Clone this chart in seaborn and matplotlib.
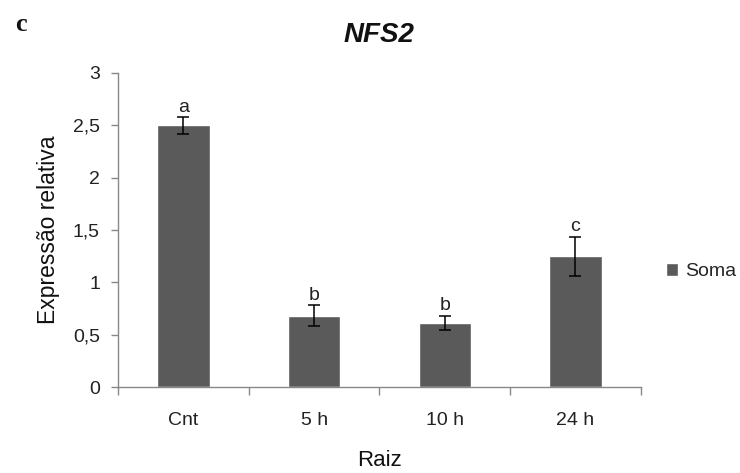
import matplotlib
matplotlib.use("Agg")
import matplotlib.pyplot as plt
from matplotlib.ticker import FixedLocator, FuncFormatter
import seaborn as sns
import pandas as pd

# Relative expression of NFS2 in root tissue
categories = ["Cnt", "5 h", "10 h", "24 h"]
expression = [2.50, 0.68, 0.61, 1.25]
errors = [0.08, 0.10, 0.07, 0.185]
letters = ["a", "b", "b", "c"]
series_name = "Soma"

sns.set_theme(style="white")
plt.rcParams["font.family"] = ["Liberation Sans", "DejaVu Sans"]

df = pd.DataFrame({"grupo": categories, "valor": expression})

fig = plt.figure(figsize=(7.4, 4.73), dpi=100)
ax = fig.add_axes([0.1595, 0.1818, 0.7065, 0.6639])

bar_color = "#5a5a5a"
sns.barplot(data=df, x="grupo", y="valor", color=bar_color, width=0.4,
            saturation=1, errorbar=None, label=series_name, ax=ax)

xpos = list(range(len(categories)))
ax.errorbar(xpos, expression, yerr=errors, fmt="none", ecolor="black",
            elinewidth=1.1, capsize=4, capthick=1.1)

for x, v, e, t in zip(xpos, expression, errors, letters):
    ax.annotate(t, (x, v + e), xytext=(0, 1), textcoords="offset points",
                ha="center", va="bottom", fontsize=14, color="#222222")

ax.set_ylim(0, 3)
ax.set_xlim(-0.5, len(categories) - 0.5)
ax.set_yticks([0, 0.5, 1, 1.5, 2, 2.5, 3])
ax.yaxis.set_major_formatter(
    FuncFormatter(lambda v, _: ("%g" % v).replace(".", ",")))

# category boundaries carry the tick marks, labels sit at the centres
ax.xaxis.set_major_locator(FixedLocator([i - 0.5 for i in range(len(categories) + 1)]))
ax.xaxis.set_major_formatter(FuncFormatter(lambda v, _: ""))
ax.xaxis.set_minor_locator(FixedLocator(xpos))
ax.set_xticklabels(categories, minor=True)
ax.tick_params(axis="x", which="major", direction="out", length=6,
               width=1, color="#888888", bottom=True)
ax.tick_params(axis="x", which="minor", length=0, pad=18,
               labelsize=14, labelcolor="#222222")
ax.tick_params(axis="y", direction="out", length=5, width=1,
               color="#888888", left=True, labelsize=14,
               labelcolor="#222222", pad=8)

for side in ["top", "right"]:
    ax.spines[side].set_visible(False)
for side in ["left", "bottom"]:
    ax.spines[side].set_color("#888888")
    ax.spines[side].set_linewidth(1)

ax.set_xlabel("Raiz", fontsize=16, color="#111111", labelpad=15)
ax.set_ylabel("Expressão relativa", fontsize=16.5, color="#111111", labelpad=9)
ax.set_title("NFS2", fontsize=20, fontweight="bold", fontstyle="italic",
             color="#111111", pad=22)

fig.text(0.02, 0.935, "c", fontsize=19, family="Liberation Serif",
         fontweight="bold", color="#111111")

ax.legend(loc="center left", bbox_to_anchor=(0.877, 0.425),
          bbox_transform=fig.transFigure, frameon=False, fontsize=14,
          handlelength=0.6, handleheight=0.6, handletextpad=0.35)

fig.savefig("out.png", dpi=100)
